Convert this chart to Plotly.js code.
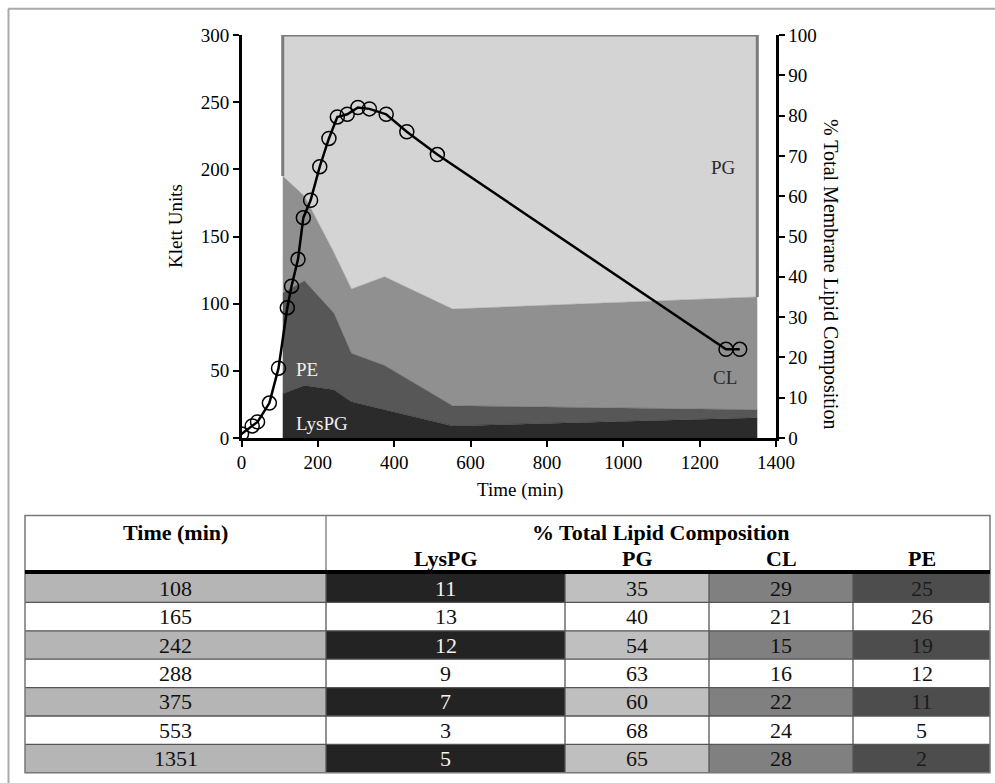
<!DOCTYPE html>
<html>
<head>
<meta charset="utf-8">
<script src="https://cdn.plot.ly/plotly-3.0.1.min.js"></script>
<style>
  html, body { margin: 0; padding: 0; background: #ffffff; }
  #chart { width: 995px; height: 783px; }
</style>
</head>
<body>
<div id="chart"></div>
<script>
// ---------------- DATA ----------------
// Growth curve (Klett units vs time, min)
const klettTime = [0, 28, 42, 73, 97, 120, 131, 148, 162, 181, 205, 229, 251, 277, 305, 335, 379, 433, 513, 1269, 1305];
const klettUnits = [3, 9, 12, 26, 52, 97, 113, 133, 164, 177, 202, 223, 239, 241, 246, 245, 241, 228, 211, 66, 66];

// Lipid composition table (% total lipid)
const sampleTimes = [108, 165, 242, 288, 375, 553, 1351];
const lysPG = [11, 13, 12, 9, 7, 3, 5];
const PG = [35, 40, 54, 63, 60, 68, 65];
const CL = [29, 21, 15, 16, 22, 24, 28];
const PE = [25, 26, 19, 12, 11, 5, 2];

const lipidNames = ["LysPG", "PG", "CL", "PE"];
const xTicks = [0, 200, 400, 600, 800, 1000, 1200, 1400];

// ---------------- LAYOUT HELPERS ----------------
const W = 995, H = 783;
const px = v => v / W;
const py = v => 1 - v / H;
const FONT = "Liberation Serif, Times New Roman, serif";

// cumulative tops for outline
const cumLysPE = lysPG.map((v, i) => v + PE[i]);
const cumCL = cumLysPE.map((v, i) => v + CL[i]);
const cumAll = cumCL.map((v, i) => v + PG[i]);
const nT = sampleTimes.length;

// ---------------- TRACES ----------------
const areaColors = { LysPG: "#2b2b2b", PE: "#575757", CL: "#909090", PG: "#d4d4d4" };
function areaTrace(name, vals) {
  return {
    type: "scatter", mode: "lines", name: name,
    x: sampleTimes, y: vals, yaxis: "y", xaxis: "x",
    stackgroup: "lipids",
    line: { width: 0.5, color: areaColors[name] },
    fillcolor: areaColors[name],
    hoverinfo: "skip", showlegend: false
  };
}

const traces = [
  areaTrace("LysPG", lysPG),
  areaTrace("PE", PE),
  areaTrace("CL", CL),
  areaTrace("PG", PG),
  {
    // outline of the PG block (left edge, top, right edge)
    type: "scatter", mode: "lines",
    x: [sampleTimes[0], sampleTimes[0], sampleTimes[nT - 1], sampleTimes[nT - 1]],
    y: [cumCL[0], cumAll[0], cumAll[nT - 1], cumCL[nT - 1]],
    yaxis: "y", xaxis: "x",
    line: { color: "#7b7b7b", width: 3 },
    hoverinfo: "skip", showlegend: false
  },
  {
    type: "scatter", mode: "lines+markers", name: "Klett",
    x: klettTime, y: klettUnits, xaxis: "x", yaxis: "y2",
    line: { color: "#000000", width: 2.5 },
    marker: { symbol: "circle-open", size: 14, color: "#000000", line: { width: 1.5, color: "#000000" } },
    showlegend: false
  }
];

// ---------------- TABLE (shapes + annotations) ----------------
const colEdges = [25, 326, 565, 709, 853, 990];
const tableTop = 515.5;
const headLineY = 572;
const rowTop = 574;
const rowH = 28.4;
const tableBottom = rowTop + rowH * nT;
const shadeFill = ["#b5b5b5", "#232323", "#bfbfbf", "#808080", "#4d4d4d"];
const shadeText = ["#111111", "#f2f2f2", "#111111", "#111111", "#1c1c1c"];

const shapes = [];
const annotations = [];

// outer frame of the figure
shapes.push({ type: "line", xref: "paper", yref: "paper", x0: px(8), x1: px(W), y0: py(8.7), y1: py(8.7), line: { color: "#aaaaaa", width: 2 } });
shapes.push({ type: "line", xref: "paper", yref: "paper", x0: px(8.5), x1: px(8.5), y0: py(8.7), y1: py(H), line: { color: "#aaaaaa", width: 2 } });

// shaded rows
const tableCols = [sampleTimes, lysPG, PG, CL, PE];
for (let r = 0; r < nT; r++) {
  const y0 = rowTop + r * rowH, y1 = y0 + rowH;
  for (let c = 0; c < 5; c++) {
    if (r % 2 === 0) {
      shapes.push({ type: "rect", xref: "paper", yref: "paper", x0: px(colEdges[c]), x1: px(colEdges[c + 1]), y0: py(y0), y1: py(y1), fillcolor: shadeFill[c], line: { width: 0 }, layer: "above" });
    }
    annotations.push({
      xref: "paper", yref: "paper", x: px((colEdges[c] + colEdges[c + 1]) / 2), y: py((y0 + y1) / 2),
      text: String(tableCols[c][r]), showarrow: false, xanchor: "center", yanchor: "middle",
      font: { family: FONT, size: 22, color: r % 2 === 0 ? shadeText[c] : "#111111" }
    });
  }
}
// row separators
for (let r = 1; r < nT; r++) {
  const y = rowTop + r * rowH;
  shapes.push({ type: "line", xref: "paper", yref: "paper", x0: px(colEdges[0]), x1: px(colEdges[5]), y0: py(y), y1: py(y), line: { color: "#555555", width: 1.3 }, layer: "above" });
}
// vertical separators in body
for (let c = 1; c < 5; c++) {
  shapes.push({ type: "line", xref: "paper", yref: "paper", x0: px(colEdges[c]), x1: px(colEdges[c]), y0: py(rowTop), y1: py(tableBottom), line: { color: "#555555", width: 1.3 }, layer: "above" });
}
// header separator between Time and composition
shapes.push({ type: "line", xref: "paper", yref: "paper", x0: px(colEdges[1]), x1: px(colEdges[1]), y0: py(tableTop), y1: py(headLineY), line: { color: "#777777", width: 1.3 }, layer: "above" });
// outer table border
shapes.push({ type: "rect", xref: "paper", yref: "paper", x0: px(colEdges[0]), x1: px(colEdges[5]), y0: py(tableTop), y1: py(tableBottom), line: { color: "#777777", width: 1.5 }, layer: "above" });
// thick header rule
shapes.push({ type: "line", xref: "paper", yref: "paper", x0: px(colEdges[0]), x1: px(colEdges[5]), y0: py(headLineY), y1: py(headLineY), line: { color: "#000000", width: 4 }, layer: "above" });

// header texts
annotations.push({ xref: "paper", yref: "paper", x: px((colEdges[0] + colEdges[1]) / 2), y: py(532), text: "<b>Time (min)</b>", showarrow: false, xanchor: "center", yanchor: "middle", font: { family: FONT, size: 22, color: "#000" } });
annotations.push({ xref: "paper", yref: "paper", x: px(660), y: py(532), text: "<b>% Total Lipid Composition</b>", showarrow: false, xanchor: "center", yanchor: "middle", font: { family: FONT, size: 22, color: "#000" } });
for (let c = 1; c < 5; c++) {
  annotations.push({ xref: "paper", yref: "paper", x: px((colEdges[c] + colEdges[c + 1]) / 2), y: py(558), text: "<b>" + lipidNames[c - 1] + "</b>", showarrow: false, xanchor: "center", yanchor: "middle", font: { family: FONT, size: 22, color: "#000" } });
}

// ---------------- CHART ANNOTATIONS ----------------
annotations.push({ xref: "x", yref: "y", x: 1263, y: 67, text: "PG", showarrow: false, font: { family: FONT, size: 19, color: "#2a2a2a" } });
annotations.push({ xref: "x", yref: "y", x: 1267, y: 15, text: "CL", showarrow: false, font: { family: FONT, size: 19, color: "#2a2a2a" } });
annotations.push({ xref: "x", yref: "y", x: 171, y: 17, text: "PE", showarrow: false, font: { family: FONT, size: 19, color: "#eeeeee" } });
annotations.push({ xref: "x", yref: "y", x: 211, y: 3.7, text: "LysPG", showarrow: false, font: { family: FONT, size: 19, color: "#eeeeee" } });

// axis titles
annotations.push({ xref: "paper", yref: "paper", x: px(176), y: py(226), text: "Klett Units", textangle: -90, showarrow: false, xanchor: "center", yanchor: "middle", font: { family: FONT, size: 19, color: "#000" } });
annotations.push({ xref: "paper", yref: "paper", x: px(831), y: py(274), text: "% Total Membrane Lipid Composition", textangle: 90, showarrow: false, xanchor: "center", yanchor: "middle", font: { family: FONT, size: 20, color: "#000" } });
annotations.push({ xref: "paper", yref: "paper", x: px(520), y: py(490), text: "Time (min)", showarrow: false, xanchor: "center", yanchor: "middle", font: { family: FONT, size: 19, color: "#000" } });

const axisCommon = {
  showgrid: false, zeroline: false, showline: true, linecolor: "#000", linewidth: 2.5,
  ticks: "outside", ticklen: 6, tickwidth: 2, tickcolor: "#000",
  tickfont: { family: FONT, size: 19, color: "#000" }, fixedrange: true
};

const layout = {
  width: W, height: H,
  margin: { l: 0, r: 0, t: 0, b: 0, pad: 0 },
  paper_bgcolor: "#ffffff", plot_bgcolor: "#ffffff",
  showlegend: false,
  xaxis: Object.assign({}, axisCommon, { domain: [px(241.5), px(776)], range: [0, 1400], tickvals: xTicks, anchor: "y" }),
  yaxis: Object.assign({}, axisCommon, { domain: [py(438), py(35)], range: [0, 100], dtick: 10, side: "right", anchor: "x" }),
  yaxis2: Object.assign({}, axisCommon, { domain: [py(438), py(35)], range: [0, 300], dtick: 50, side: "left", overlaying: "y", anchor: "x" }),
  shapes: shapes,
  annotations: annotations
};

Plotly.newPlot("chart", traces, layout, { displayModeBar: false, staticPlot: true });
</script>
</body>
</html>
